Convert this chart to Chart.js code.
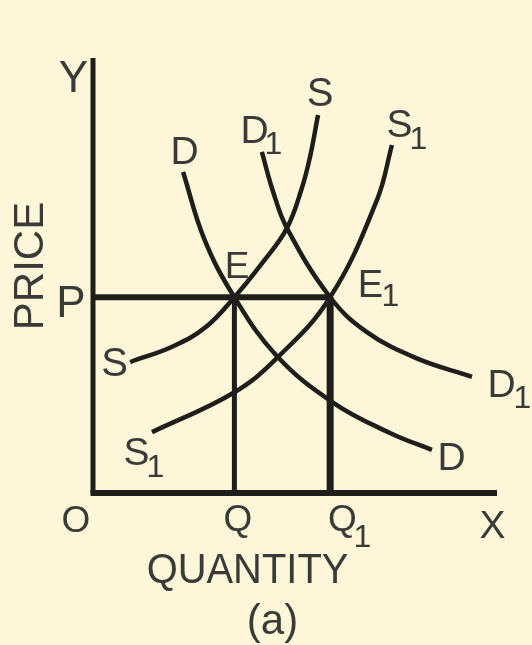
<!DOCTYPE html>
<html>
<head>
<meta charset="utf-8">
<script src="https://cdn.jsdelivr.net/npm/chart.js@4/dist/chart.umd.min.js"></script>
<style>
  html, body { margin: 0; padding: 0; background: #fdf6d8; }
  canvas { display: block; }
</style>
</head>
<body>
<canvas id="c" width="532" height="645"></canvas>
<script>
// Equilibrium values (price and quantities)
const P = 45;
const Q = 35;
const Q1 = 58.7;

// Supply curve S: [quantity, price]
const supplyS = [[9.2, 30.1], [20.0, 33.8], [28.0, 38.2], [35, 45], [42.0, 53.0], [48.0, 60.9], [51.7, 70.1], [53.7, 77.2], [55.7, 86.9]];
// Shifted supply curve S1
const supplyS1 = [[14.6, 14.0], [34.7, 23.0], [45.5, 31.0], [58.7, 45], [70.3, 67.4], [74.0, 80.0]];
// Demand curve D
const demandD = [[22.3, 73.8], [27.5, 58.5], [35, 45], [45.5, 31.5], [59.4, 20.8], [73.5, 13.8], [83.9, 9.9]];
// Shifted demand curve D1
const demandD1 = [[41.8, 78.4], [44.5, 69.5], [48.0, 60.9], [58.7, 45], [67.8, 37.0], [80.0, 31.0], [93.8, 26.7]];

const INK = '#1f1e1b';
const TEXT = '#3a3a38';
const FONT = '"Liberation Sans", Arial, sans-serif';

const pts = arr => arr.map(([x, y]) => ({ x, y }));

function line(data, width, curve) {
  return {
    data,
    borderColor: INK,
    borderWidth: width,
    pointRadius: 0,
    fill: false,
    clip: false,
    borderCapStyle: 'butt',
    borderJoinStyle: 'miter',
    cubicInterpolationMode: 'default',
    tension: curve ? 0.4 : 0
  };
}

// Text labels: main glyph (centred) plus optional subscript (left aligned)
const labels = [
  { t: 'Y', x: 73.5, y: 92, size: 44 },
  { t: 'P', x: 71, y: 317, size: 44 },
  { t: 'O', x: 76, y: 532, size: 37 },
  { t: 'Q', x: 238, y: 531, size: 37 },
  { t: 'Q', x: 342.5, y: 531, size: 37, sub: '1', sx: 353.5, sy: 547 },
  { t: 'X', x: 492.5, y: 538, size: 39 },
  { t: 'QUANTITY', x: 247.5, y: 583, size: 42, scaleX: 0.95 },
  { t: '(a)', x: 272.5, y: 634, size: 42 },
  { t: 'S', x: 320, y: 106, size: 40 },
  { t: 'D', x: 254.5, y: 143, size: 39, sub: '1', sx: 264.5, sy: 154 },
  { t: 'S', x: 399.5, y: 137, size: 39, sub: '1', sx: 409.5, sy: 149 },
  { t: 'D', x: 184.5, y: 164, size: 39 },
  { t: 'E', x: 237, y: 278, size: 37 },
  { t: 'E', x: 370.5, y: 297, size: 38, sub: '1', sx: 381.5, sy: 306 },
  { t: 'S', x: 114.5, y: 376, size: 40 },
  { t: 'S', x: 136.5, y: 465, size: 39, sub: '1', sx: 146.5, sy: 477 },
  { t: 'D', x: 501.5, y: 397, size: 39, sub: '1', sx: 513.5, sy: 408 },
  { t: 'D', x: 451.5, y: 470, size: 39 }
];

const textPlugin = {
  id: 'diagramText',
  beforeDraw(chart) {
    const ctx = chart.ctx;
    ctx.save();
    ctx.fillStyle = '#fdf6d8';
    ctx.fillRect(0, 0, chart.width, chart.height);
    ctx.restore();
  },
  afterDraw(chart) {
    const ctx = chart.ctx;
    ctx.save();
    ctx.fillStyle = TEXT;
    ctx.textBaseline = 'alphabetic';
    for (const l of labels) {
      ctx.font = l.size + 'px ' + FONT;
      ctx.textAlign = 'center';
      ctx.save();
      ctx.translate(l.x, l.y);
      if (l.scaleX) ctx.scale(l.scaleX, 1);
      ctx.fillText(l.t, 0, 0);
      ctx.restore();
      if (l.sub) {
        ctx.font = '32px ' + FONT;
        ctx.textAlign = 'left';
        ctx.fillText(l.sub, l.sx, l.sy);
      }
    }
    // vertical axis title
    ctx.save();
    ctx.translate(43, 266);
    ctx.rotate(-Math.PI / 2);
    ctx.font = '42px ' + FONT;
    ctx.textAlign = 'center';
    ctx.fillText('PRICE', 0, 0);
    ctx.restore();
    ctx.restore();
  }
};

new Chart(document.getElementById('c'), {
  type: 'line',
  data: {
    datasets: [
      line([{ x: 0, y: 0 }, { x: 0, y: 100 }], 5, false),
      line([{ x: -0.62, y: 0 }, { x: 100, y: 0 }], 6, false),
      line([{ x: 0, y: P }, { x: Q1, y: P }], 6, false),
      line([{ x: Q, y: 0 }, { x: Q, y: P }], 5, false),
      line([{ x: Q1, y: 0 }, { x: Q1, y: P }], 7, false),
      line(pts(supplyS), 4.5, true),
      line(pts(supplyS1), 4.5, true),
      line(pts(demandD), 4.5, true),
      line(pts(demandD1), 4.5, true)
    ]
  },
  options: {
    responsive: false,
    devicePixelRatio: 1,
    animation: false,
    layout: { padding: { left: 93, right: 35, top: 58, bottom: 152 } },
    scales: {
      x: { type: 'linear', min: 0, max: 100, display: false },
      y: { type: 'linear', min: 0, max: 100, display: false }
    },
    plugins: { legend: { display: false }, tooltip: { enabled: false } },
    events: []
  },
  plugins: [textPlugin]
});
</script>
</body>
</html>
